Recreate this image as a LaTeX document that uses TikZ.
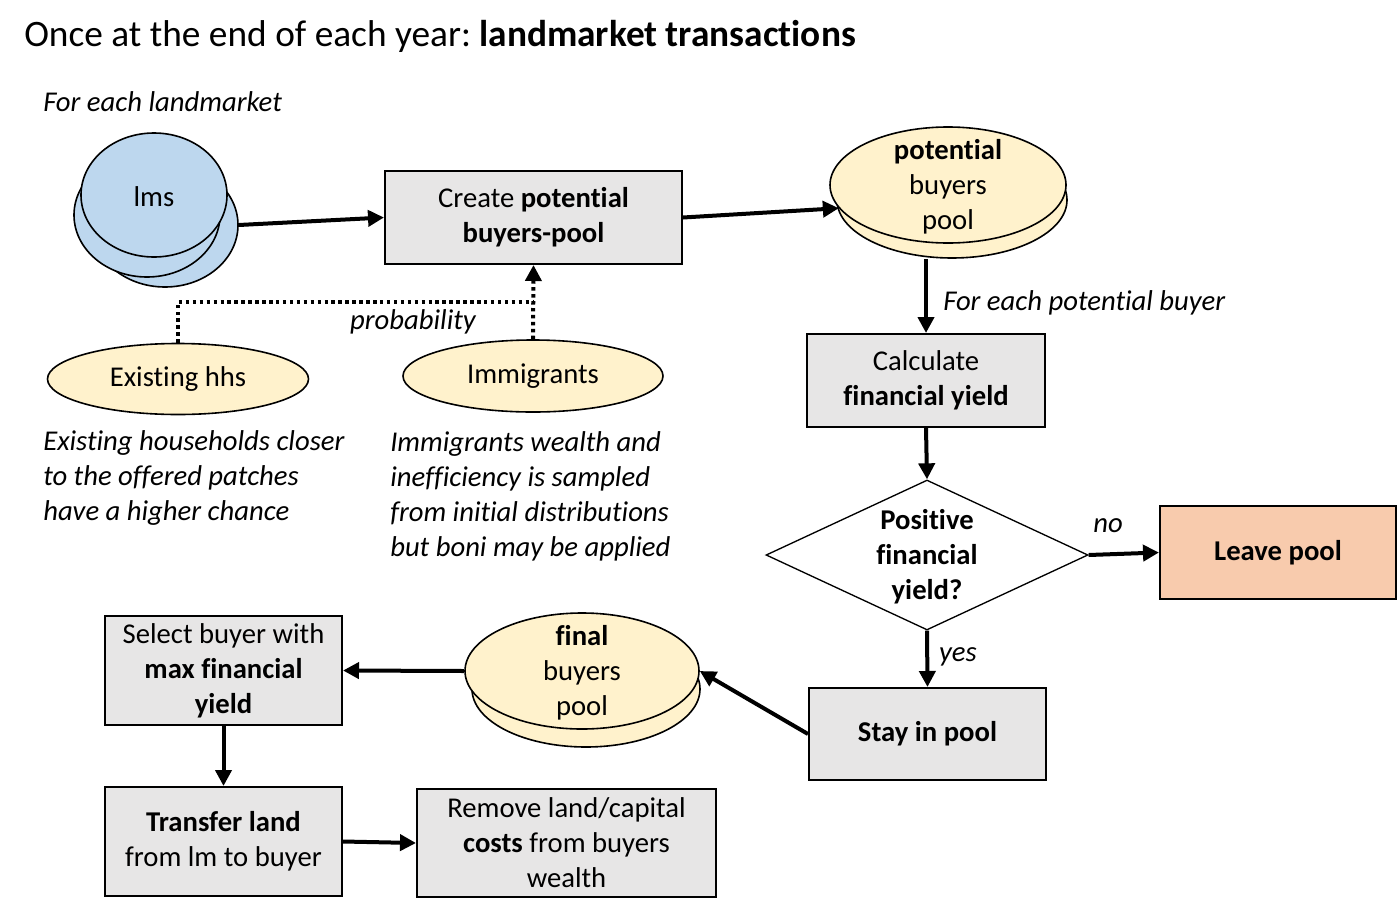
\documentclass[tikz,border=0pt]{standalone}
\usepackage{fontspec}
\setmainfont{Carlito}[Ligatures=NoCommon]
\usetikzlibrary{shapes.geometric,arrows.meta}

\definecolor{lmblue}{HTML}{BDD7EE}
\definecolor{hhyellow}{HTML}{FFF2CC}
\definecolor{boxgray}{HTML}{E7E6E6}
\definecolor{leaveorange}{HTML}{F8CBAD}

\begin{document}
\begin{tikzpicture}[x=0.75pt,y=-0.75pt,
    font=\fontsize{21.5}{26.25}\selectfont,
    box/.style={rectangle,draw,line width=1.5pt,fill=boxgray,align=center,inner sep=0pt},
    disc/.style={ellipse,draw,line width=1.2pt,inner sep=0pt},
    note/.style={align=left,anchor=west,inner sep=0pt,font=\fontsize{21.5}{26.25}\selectfont\itshape},
    tag/.style={inner sep=0pt,font=\fontsize{21.5}{26.25}\selectfont\itshape},
    flow/.style={-{Triangle[length=12pt,width=12pt]},line width=3pt},
    prob/.style={flow,dash pattern=on 2.6pt off 2.6pt}]

    \useasboundingbox (0,0) rectangle (1398,914);

    % title and headings
    \node[anchor=west,inner sep=0pt,font=\fontsize{28}{34}\selectfont] (title) at (24,36)
      {Once at the end of each year:\ \textbf{landmarket transactions}};
    \node[note] (forlm) at (43,102) {For each landmarket};

    % stack of landmarkets
    \node[disc,fill=lmblue,minimum width=109.5pt,minimum height=93pt] (lms3) at (165,225) {};
    \node[disc,fill=lmblue,minimum width=109.5pt,minimum height=93pt] (lms2) at (147,215) {};
    \node[disc,fill=lmblue,minimum width=109.5pt,minimum height=93pt] (lms1) at (154,195) {};
    \node (lmstext) at ([yshift=-1.5pt]lms1.center) {lms};

    % create the pool
    \node[box,minimum width=222.75pt,minimum height=69.75pt] (create) at (533.5,217.5)
      {Create \textbf{potential}\\\textbf{buyers-pool}};

    \node[disc,fill=hhyellow,minimum width=172.5pt,minimum height=87pt] (potbot) at (952,200) {};
    \node[disc,fill=hhyellow,minimum width=177pt,minimum height=87pt] (pottop) at (948,185) {};
    \node[align=center] (pottext) at ([yshift=-1.5pt]pottop.center) {\textbf{potential}\\buyers\\pool};

    % households
    \node[disc,fill=hhyellow,minimum width=195.75pt,minimum height=53.25pt] (exist) at (178,379) {Existing hhs};
    \node[disc,fill=hhyellow,minimum width=195pt,minimum height=54pt] (immig) at (533,376) {Immigrants};
    \coordinate (probjoin) at (533,302);
    \node[tag] (problabel) at (413,322) {probability};

    \node[note] (existnote) at (43,478)
      {Existing households closer\\to the offered patches\\have a higher chance};
    \node[note] (immignote) at (390,496)
      {Immigrants wealth and\\inefficiency is sampled\\from initial distributions\\but boni may be applied};

    % evaluate each buyer
    \node[box,minimum width=178.5pt,minimum height=69.75pt] (calc) at (926,380.5)
      {Calculate\\\textbf{financial yield}};
    \node[note] (forbuyer) at (943,303) {For each potential buyer};

    \node[diamond,draw,line width=1pt,minimum width=241.5pt,minimum height=112.5pt,inner sep=0pt] (positive) at (927,555) {};
    \node[align=center,font=\fontsize{21.5}{26.25}\selectfont\bfseries] (postext) at ([yshift=-1.5pt]positive.center)
      {Positive\\financial\\yield?};

    \node[box,fill=leaveorange,minimum width=177pt,minimum height=69.75pt,font=\fontsize{21.5}{26.25}\selectfont\bfseries] (leave) at (1278,552.5) {Leave pool};
    \node[box,minimum width=177.75pt,minimum height=69pt,font=\fontsize{21.5}{26.25}\selectfont\bfseries] (stay) at (927.5,734) {Stay in pool};

    % final pool and transaction
    \node[disc,fill=hhyellow,minimum width=171pt,minimum height=87pt] (finbot) at (586,689) {};
    \node[disc,fill=hhyellow,minimum width=175.5pt,minimum height=87pt] (fintop) at (582,671) {};
    \node[align=center] (fintext) at ([yshift=-1.5pt]fintop.center) {\textbf{final}\\buyers\\pool};

    \node[box,minimum width=177.75pt,minimum height=81.75pt] (select) at (223.5,670.5)
      {Select buyer with\\\textbf{max financial}\\\textbf{yield}};
    \node[box,minimum width=177.75pt,minimum height=81.75pt] (transfer) at (223.5,841.5)
      {\textbf{Transfer land}\\from lm to buyer};
    \node[box,minimum width=224.25pt,minimum height=81pt] (remove) at (566.5,843)
      {Remove land/capital\\\textbf{costs} from buyers\\wealth};

    \node[tag] (nolabel) at (1108,526) {no};
    \node[tag] (yeslabel) at (958,657) {yes};

    % connectors
    \draw[flow] (lms3.east) -- (create.west);
    \draw[flow] (create.east) -- (pottop.192);
    \draw[flow] (potbot.south -| calc.north) -- (calc.north);
    \draw[flow] (calc.south) -- (positive.north);
    \draw[flow] (positive.east) -- (leave.west);
    \draw[flow] (positive.south) -- (stay.north);
    \draw[flow] (stay.west) -- (fintop.east);
    \draw[flow] (fintop.west) -- (select.east);
    \draw[flow] (select.south) -- (transfer.north);
    \draw[flow] (transfer.east) -- (remove.west);

    \draw[prob,-] (exist.north) |- (probjoin);
    \draw[prob] (immig.north) -- (create.south);
\end{tikzpicture}
\end{document}
